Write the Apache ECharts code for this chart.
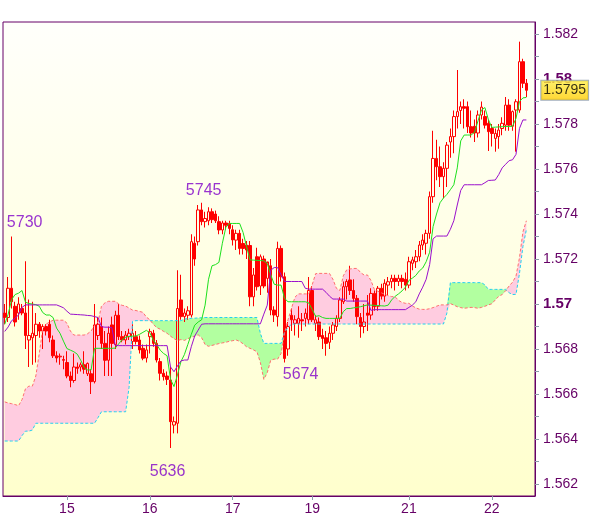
<!DOCTYPE html>
<html><head><meta charset="utf-8">
<script src="https://cdn.jsdelivr.net/npm/echarts@6/dist/echarts.min.js"></script>
<style>html,body{margin:0;padding:0;background:#fff}#c{width:600px;height:519px}</style>
</head><body><div id="c"></div>
<script>
// ---- x axis: hourly slots, day labels ----
const slotCount = 154;
const dayTickIndex = [18, 42, 66, 89, 117, 141];
const dayTickLabel = ['15', '16', '17', '19', '21', '22'];

// ---- candles ----
const open = [
1.5696,1.5694,1.5707,1.5699,1.5696,1.5698,1.5696,1.5684,1.5685,1.5686,
1.5691,1.5688,1.5690,1.5691,1.5684,1.5677,1.56765,1.56753,1.5674,1.5668,
1.5666,1.5672,1.5672,1.5673,1.5669,1.5669,1.56655,1.5686,1.5690,1.56825,
1.5675,1.56907,1.5682,1.5695,1.56855,1.5684,1.56855,1.56833,1.56855,1.5684,
1.56803,1.5676,1.56855,1.5687,1.56825,1.56744,1.56692,1.5668,1.56662,1.56462,
1.5647,1.57018,1.56944,1.5695,1.56951,1.5727,1.57277,1.57418,1.57366,1.5737,
1.5741,1.5740,1.57366,1.57329,1.5736,1.57358,1.5733,1.57284,1.57314,1.57269,
1.57262,1.5726,1.57032,1.5721,1.5708,1.5720,1.57114,1.5717,1.56973,1.56944,
1.57247,1.57121,1.5680,1.5695,1.56914,1.56914,1.5693,1.56936,1.5693,1.5706,
1.56914,1.5692,1.5686,1.5685,1.5683,1.5687,1.5690,1.56936,1.5701,1.57077,
1.57107,1.5706,1.57025,1.5694,1.5690,1.5696,1.56951,1.57047,1.5699,1.5707,
1.57035,1.57084,1.57099,1.57114,1.5710,1.57114,1.5711,1.57084,1.57181,1.57188,
1.5721,1.57262,1.5727,1.57314,1.57477,1.57647,1.5761,1.57566,1.57603,1.5772,
1.57744,1.57833,1.5786,1.57877,1.57877,1.57788,1.5779,1.5776,1.5784,1.57833,
1.57803,1.5778,1.57736,1.57744,1.5778,1.57795,1.57884,1.5779,1.57862,1.57862,
1.58077,1.57981];
const high = [
1.5700,1.5712,1.5730,1.5701,1.5703,1.5700,1.5719,1.5702,1.5701,1.5696,
1.5692,1.5691,1.5691,1.5693,1.5686,1.5679,1.5678,1.5677,1.5679,1.5670,
1.5678,1.5674,1.5674,1.5679,1.5674,1.5671,1.5700,1.5694,1.5694,1.5688,
1.5690,1.56944,1.5697,1.5700,1.5688,1.5688,1.5689,1.5691,1.5688,1.5686,
1.5682,1.5682,1.5689,1.56885,1.5684,1.5676,1.5671,1.5670,1.5672,1.5650,
1.5715,1.5713,1.5698,1.5699,1.5731,1.5730,1.5744,1.5745,1.5741,1.5743,
1.57425,1.57415,1.5739,1.5737,1.5737,1.5737,1.5735,1.5733,1.5733,1.5729,
1.5728,1.5728,1.5716,1.5725,1.5722,1.57215,1.5718,1.5720,1.5699,1.57277,
1.5726,1.5714,1.5692,1.5698,1.5695,1.5699,1.5696,1.5698,1.5712,1.5708,
1.5695,1.5694,1.5689,1.5688,1.5690,1.5692,1.5695,1.5703,1.5710,1.5711,
1.5717,1.5711,1.5704,1.5696,1.5700,1.5704,1.5707,1.5706,1.5708,1.5709,
1.5711,1.5712,1.5713,1.5713,1.5713,1.5713,1.5714,1.5721,1.5721,1.5724,
1.5728,1.5731,1.5733,1.5750,1.5777,1.5773,1.5770,1.5763,1.5772,1.5778,
1.5786,1.5804,1.5790,1.5791,1.5790,1.5786,1.5782,1.5786,1.5790,1.5786,
1.5782,1.5780,1.5778,1.5780,1.5783,1.5792,1.5791,1.5786,1.5791,1.58166,
1.5809,1.5800];
const low = [
1.5691,1.5692,1.5698,1.5690,1.5693,1.5695,1.5680,1.5672,1.5673,1.5674,
1.5685,1.5680,1.5686,1.5683,1.5676,1.5674,1.5673,1.5671,1.5667,1.5663,
1.5665,1.5669,1.5670,1.5669,1.5668,1.5660,1.56647,1.5684,1.5680,1.5668,
1.5668,1.5668,1.5680,1.5684,1.5683,1.5682,1.5684,1.5680,1.5682,1.5678,
1.5675,1.5674,1.5678,1.5681,1.5674,1.5666,1.5666,1.5664,1.5636,1.56425,
1.56425,1.5693,1.5692,1.5693,1.5694,1.5717,1.5726,1.5735,1.5734,1.5735,
1.5736,1.5736,1.5731,1.5731,1.5733,1.5731,1.5726,1.5724,1.5722,1.5722,
1.5720,1.5699,1.5699,1.5706,1.5704,1.5707,1.5705,1.5695,1.5692,1.5690,
1.5710,1.5674,1.5677,1.5688,1.5686,1.5685,1.5688,1.5690,1.5691,1.5692,
1.5688,1.5684,1.5680,1.5677,1.5680,1.5684,1.5688,1.5692,1.5700,1.5702,
1.5704,1.5701,1.5691,1.5685,1.5687,1.5688,1.5693,1.5697,1.5697,1.5702,
1.5701,1.5704,1.5707,1.5706,1.5708,1.5707,1.5706,1.5707,1.5715,1.5716,
1.5719,1.5724,1.5722,1.5729,1.5745,1.5755,1.5752,1.5747,1.5752,1.5765,
1.5767,1.5778,1.5780,1.5778,1.5776,1.5774,1.5772,1.5774,1.5782,1.5778,
1.5768,1.5770,1.57677,1.5769,1.5775,1.5777,1.5777,1.5777,1.57677,1.5785,
1.5796,1.5792];
const close = [
1.5694,1.5707,1.5701,1.5692,1.5700,1.5696,1.5686,1.5686,1.5687,1.5691,
1.5688,1.5690,1.5688,1.5685,1.5677,1.5676,1.56768,1.5675,1.5668,1.5666,
1.5672,1.56714,1.5673,1.5671,1.56736,1.56655,1.56907,1.5691,1.56825,1.5675,
1.5687,1.56825,1.5695,1.56855,1.5684,1.56862,1.5687,1.5687,1.56833,1.56796,
1.56759,1.56796,1.56877,1.56825,1.56751,1.56692,1.56677,1.56665,1.56477,1.56477,
1.5698,1.56944,1.5696,1.5697,1.57277,1.5720,1.57418,1.57366,1.5738,1.5741,
1.57375,1.5737,1.57329,1.5736,1.5735,1.57336,1.57285,1.57314,1.57247,1.57247,
1.5724,1.57032,1.57129,1.57077,1.5721,1.5708,1.57187,1.56973,1.56951,1.57247,
1.57121,1.56758,1.5690,1.5693,1.5693,1.56936,1.56925,1.56959,1.5706,1.5693,
1.5693,1.56855,1.56847,1.56825,1.5687,1.56907,1.56936,1.57018,1.57077,1.5710,
1.5706,1.57025,1.56944,1.5690,1.5692,1.5695,1.57047,1.56988,1.5707,1.57035,
1.57092,1.57099,1.57114,1.5710,1.57114,1.5710,1.57084,1.57188,1.57196,1.5721,
1.57262,1.57284,1.57314,1.57477,1.57647,1.5761,1.57566,1.57603,1.57706,1.57744,
1.57833,1.57855,1.57877,1.5787,1.57788,1.5776,1.5776,1.5784,1.57875,1.57795,
1.57766,1.57758,1.57758,1.57773,1.57803,1.57884,1.57795,1.57855,1.57899,1.58077,
1.57981,1.5795];

// ---- Ichimoku lines ----
const tenkan = [
1.5691,1.56955,1.5702,1.57042,1.57048,1.5706,1.57008,1.57002,1.5700,1.56997,
1.5699,1.56962,1.56951,1.56951,1.5694,1.56893,1.5687,1.56835,1.56802,1.56795,
1.56788,1.56777,1.5675,1.56718,1.56707,1.56707,1.56803,1.56803,1.56803,1.56803,
1.56803,1.56803,1.56804,1.56823,1.56841,1.56852,1.56856,1.56857,1.56858,1.56865,
1.56874,1.56883,1.56872,1.5684,1.5682,1.56795,1.5678,1.5677,1.56665,1.56633,
1.56685,1.56744,1.56775,1.5682,1.56865,1.56906,1.5692,1.5693,1.56995,1.5711,
1.5717,1.57175,1.57185,1.5727,1.5734,1.57358,1.57358,1.57358,1.57358,1.57318,
1.57256,1.57196,1.57195,1.57194,1.57193,1.57192,1.5718,1.5713,1.57088,1.57084,
1.57084,1.57025,1.5701,1.5701,1.5701,1.5701,1.5701,1.5701,1.57005,1.56976,
1.56945,1.56948,1.5694,1.56936,1.56936,1.56936,1.56936,1.56936,1.56966,1.5698,
1.5698,1.56983,1.56985,1.56988,1.56992,1.56996,1.56995,1.56994,1.56993,1.56992,
1.56991,1.56995,1.57018,1.57034,1.57045,1.57058,1.57075,1.57105,1.57115,1.57127,
1.57147,1.5716,1.57188,1.5723,1.57344,1.574,1.5745,1.57471,1.57487,1.57508,
1.5753,1.57605,1.57725,1.57751,1.57751,1.57751,1.57763,1.57814,1.57862,1.57873,
1.5782,1.57785,1.57786,1.57787,1.57788,1.57789,1.57789,1.5779,1.57825,1.579,
1.57916,1.57918];
const kijun = [
1.56878,1.56898,1.56926,1.56936,1.56952,1.56985,1.56996,1.56996,1.56996,1.56996,
1.56996,1.56996,1.56996,1.56996,1.56996,1.56996,1.5699,1.56983,1.56968,1.56955,
1.56954,1.56953,1.56952,1.56951,1.56949,1.56948,1.56944,1.5694,1.56899,1.56897,
1.56897,1.56895,1.56816,1.56815,1.56815,1.56815,1.56815,1.56815,1.56815,1.56815,
1.56815,1.56815,1.56815,1.56815,1.56815,1.56815,1.56815,1.56815,1.5672,1.56699,
1.56725,1.56747,1.56751,1.56751,1.5681,1.56858,1.56884,1.5691,1.56912,1.56912,
1.56912,1.56912,1.56912,1.56912,1.56912,1.56912,1.56912,1.56912,1.56912,1.56912,
1.56912,1.56912,1.56912,1.56912,1.56912,1.56955,1.56995,1.5715,1.57162,1.57162,
1.5713,1.5710,1.5710,1.5710,1.5710,1.5710,1.5710,1.5707,1.57066,1.57066,
1.57066,1.57066,1.57066,1.57052,1.57035,1.57022,1.57022,1.57022,1.57022,1.57013,
1.57013,1.57013,1.57013,1.57013,1.57013,1.57013,1.56972,1.56975,1.56975,1.56975,
1.56975,1.56975,1.56975,1.56975,1.56975,1.56975,1.56975,1.56985,1.56995,1.5701,
1.57045,1.57075,1.5711,1.57175,1.5729,1.57302,1.57302,1.57302,1.57302,1.57332,
1.5737,1.5744,1.57505,1.5753,1.5753,1.5753,1.5753,1.5753,1.5753,1.57539,
1.57549,1.5755,1.57551,1.57575,1.57605,1.57621,1.57637,1.57641,1.57665,1.5778,
1.57818,1.57818];
const senkouA = [
1.56391,1.56391,1.56391,1.56391,1.56391,1.56415,1.56435,1.56435,1.5644,1.5647,
1.5647,1.5647,1.5647,1.5647,1.5647,1.5647,1.5647,1.5647,1.5647,1.5647,
1.5647,1.5647,1.5647,1.5647,1.5647,1.5647,1.5647,1.56495,1.56521,1.56521,
1.56521,1.56521,1.56521,1.56521,1.56521,1.56521,1.5663,1.56923,1.56926,1.56926,
1.56926,1.56926,1.56926,1.56926,1.56926,1.56926,1.56926,1.56926,1.56926,1.56926,
1.56926,1.56926,1.56933,1.56935,1.56936,1.56937,1.56938,1.56939,1.5694,1.5694,
1.5694,1.5694,1.5694,1.5694,1.5694,1.5694,1.5694,1.5694,1.5694,1.5694,
1.5694,1.5694,1.5694,1.5694,1.5687,1.56825,1.56825,1.56825,1.56825,1.56825,
1.56825,1.56875,1.56895,1.5691,1.56911,1.56911,1.56911,1.56911,1.56911,1.56911,
1.56911,1.56911,1.56911,1.56911,1.56911,1.56911,1.56911,1.56911,1.56911,1.56911,
1.56911,1.56911,1.56911,1.56911,1.56911,1.56911,1.56911,1.56911,1.56911,1.56911,
1.56911,1.56911,1.56911,1.56911,1.56911,1.56911,1.56911,1.56911,1.56911,1.56911,
1.56911,1.56911,1.56911,1.56911,1.56911,1.56911,1.56911,1.56911,1.5696,1.57095,
1.57095,1.57095,1.57095,1.57095,1.57095,1.57095,1.57095,1.57095,1.57095,1.57085,
1.57065,1.57065,1.57065,1.57065,1.57065,1.57065,1.5705,1.57042,1.57043,1.57135,
1.57255,1.5733];
const senkouB = [
1.56565,1.5656,1.56557,1.56553,1.56548,1.56575,1.56623,1.56635,1.56635,1.5668,
1.5678,1.5689,1.56911,1.5692,1.56928,1.56928,1.56928,1.56928,1.56915,1.5688,
1.56862,1.56862,1.56862,1.56862,1.56868,1.5688,1.56905,1.5692,1.5699,1.57005,
1.57012,1.57012,1.57012,1.5700,1.56994,1.56991,1.56982,1.56973,1.56971,1.56967,
1.56963,1.56942,1.5693,1.5691,1.56895,1.56888,1.56878,1.5687,1.56857,1.56846,
1.56837,1.56842,1.56838,1.56846,1.56852,1.56857,1.56863,1.5685,1.5682,1.56812,
1.56816,1.5682,1.56824,1.56827,1.5683,1.56834,1.56837,1.5684,1.56834,1.56823,
1.5681,1.56803,1.56796,1.56788,1.5674,1.56665,1.56695,1.5675,1.56755,1.56755,
1.5678,1.5687,1.5693,1.5698,1.5703,1.57045,1.57045,1.57045,1.57045,1.57085,
1.57135,1.57136,1.57136,1.57136,1.57136,1.5711,1.5707,1.5706,1.57125,1.57152,
1.57156,1.57158,1.57158,1.5714,1.57129,1.57129,1.57105,1.57065,1.57057,1.5705,
1.57043,1.57037,1.57033,1.57032,1.57016,1.57007,1.57003,1.57003,1.56991,1.56983,
1.56977,1.56976,1.56976,1.56979,1.56984,1.5699,1.56996,1.56996,1.56996,1.57002,
1.56995,1.56988,1.56984,1.56981,1.56983,1.56985,1.56984,1.56981,1.56985,1.5699,
1.56996,1.57001,1.57018,1.57034,1.57042,1.57059,1.5708,1.57097,1.57124,1.57205,
1.5732,1.5737];

// ---- y axis ticks / labels ----
const yTickValues = [1.562,1.563,1.564,1.565,1.566,1.567,1.568,1.569,1.570,1.571,1.572,
  1.573,1.574,1.575,1.576,1.577,1.578,1.579,1.580,1.581,1.582];
const yLabelValues = [1.562,1.564,1.566,1.568,1.570,1.572,1.574,1.576,1.578,1.580,1.582];

// ---- annotations ----
const noteIndex = [2, 57, 48, 81];
const noteValue = [1.5730, 1.5745, 1.5636, 1.5674];
const noteText = ['5730', '5745', '5636', '5674'];
const noteOffset = [[13, -14], [2, -12], [-3, 24], [16, 12]];

const lastPrice = close[close.length - 1];

// ---- build library tables ----
const categories = [];
for (let i = 0; i < slotCount; i++) {
  const k = dayTickIndex.indexOf(i);
  categories.push(k >= 0 ? dayTickLabel[k] : 'h' + i);
}
const tickSet = new Set(dayTickIndex);
const candleData = open.map((o, i) => [o, close[i], low[i], high[i]]);
const cloudBase = senkouA.map((a, i) => Math.min(a, senkouB[i]));
const cloudPink = senkouA.map((a, i) => Math.max(senkouB[i] - a, 0));
const cloudGreen = senkouA.map((a, i) => Math.max(a - senkouB[i], 0));

const PURPLE = '#660066';
const TICK = '#8c9cab';
const FONT = '"Liberation Sans", Arial, sans-serif';
const CLEAR = 'rgba(0,0,0,0)';

const chart = echarts.init(document.getElementById('c'));
chart.setOption({
  animation: false,
  backgroundColor: '#ffffff',
  textStyle: { fontFamily: FONT },
  grid: {
    left: 3, top: 22, width: 532, height: 474, show: true,
    borderColor: PURPLE, borderWidth: 1,
    backgroundColor: { type: 'linear', x: 0, y: 0, x2: 0, y2: 1,
      colorStops: [{ offset: 0, color: '#fffffb' }, { offset: 1, color: '#ffffcd' }] }
  },
  xAxis: {
    type: 'category', data: categories, boundaryGap: true,
    axisLine: { show: true, lineStyle: { color: PURPLE } },
    axisTick: { show: true, alignWithLabel: true, length: 4,
      interval: (i) => tickSet.has(i), lineStyle: { color: TICK } },
    axisLabel: { interval: (i) => tickSet.has(i), color: PURPLE, fontSize: 14, margin: 6, fontFamily: FONT },
    splitLine: { show: false }
  },
  yAxis: {
    type: 'value', position: 'right', scale: true,
    min: 1.562 - 12 / 22500, max: 1.582 + 12 / 22500,
    axisLine: { show: true, lineStyle: { color: PURPLE } },
    axisTick: { show: true, length: 4, customValues: yTickValues, lineStyle: { color: TICK } },
    axisLabel: {
      customValues: yLabelValues, color: PURPLE, fontSize: 14, margin: 8, fontFamily: FONT,
      formatter: (v) => {
        const s = String(+(+v).toFixed(3));
        const isRound = Math.abs(v * 100 - Math.round(v * 100)) < 1e-7;
        return isRound ? '{b|' + s + '}' : s;
      },
      rich: { b: { fontWeight: 'bold', fontSize: 15, color: PURPLE, fontFamily: FONT } }
    },
    splitLine: { show: false }
  },
  series: [
    { name: 'cloudBase', type: 'line', data: cloudBase, stack: 'cloud', stackStrategy: 'all',
      symbol: 'none', silent: true, lineStyle: { color: CLEAR, width: 0 }, z: 1 },
    { name: 'cloudPink', type: 'line', data: cloudPink, stack: 'cloud', stackStrategy: 'all',
      symbol: 'none', silent: true, lineStyle: { color: CLEAR, width: 0 },
      areaStyle: { color: '#ffcce0', opacity: 1 }, z: 1 },
    { name: 'cloudGreen', type: 'line', data: cloudGreen, stack: 'cloud', stackStrategy: 'all',
      symbol: 'none', silent: true, lineStyle: { color: CLEAR, width: 0 },
      areaStyle: { color: '#b2ffa0', opacity: 1 }, z: 1 },
    { name: 'price', type: 'candlestick', data: candleData, barWidth: 3, clip: false, z: 3,
      itemStyle: { color: CLEAR, color0: '#ff0000',
        borderColor: '#ff0000', borderColor0: '#ff0000', borderWidth: 1 }
    },
    { name: 'senkouA', type: 'line', data: senkouA, symbol: 'none', silent: true, z: 4,
      lineStyle: { color: '#22d0f0', width: 1, type: [3, 2] } },
    { name: 'senkouB', type: 'line', data: senkouB, symbol: 'none', silent: true, z: 4,
      lineStyle: { color: '#ff6f6f', width: 1, type: [3, 2] } },
    { name: 'tenkan', type: 'line', data: tenkan, symbol: 'none', silent: true, z: 5,
      lineStyle: { color: '#1ee01e', width: 1 } },
    { name: 'kijun', type: 'line', data: kijun, symbol: 'none', silent: true, z: 5,
      lineStyle: { color: '#9a10cc', width: 1 } },
    { name: 'notes', type: 'scatter', silent: true, z: 6, symbolSize: 2, clip: false,
      itemStyle: { color: CLEAR },
      data: noteIndex.map((x, k) => ({
        value: [x, noteValue[k]],
        label: { show: true, position: 'inside', offset: noteOffset[k], formatter: noteText[k],
          color: '#8000c8', fontSize: 16, fontFamily: FONT }
      }))
    },
    { name: 'lastPrice', type: 'scatter', silent: true, z: 7, symbolSize: 2, clip: false,
      itemStyle: { color: CLEAR },
      data: [{
        value: [slotCount - 1, lastPrice],
        label: { show: true, position: 'right', distance: 0, offset: [7, 0],
          formatter: lastPrice.toFixed(4),
          color: '#000', fontSize: 14, fontFamily: FONT,
          backgroundColor: { type: 'linear', x: 0, y: 0, x2: 0, y2: 1,
            colorStops: [{ offset: 0, color: '#ffee44' }, { offset: 1, color: '#ffcc00' }] },
          borderColor: '#8899aa', borderWidth: 1, padding: [3, 2, 2, 2] }
      }]
    }
  ]
});
</script>
</body></html>
